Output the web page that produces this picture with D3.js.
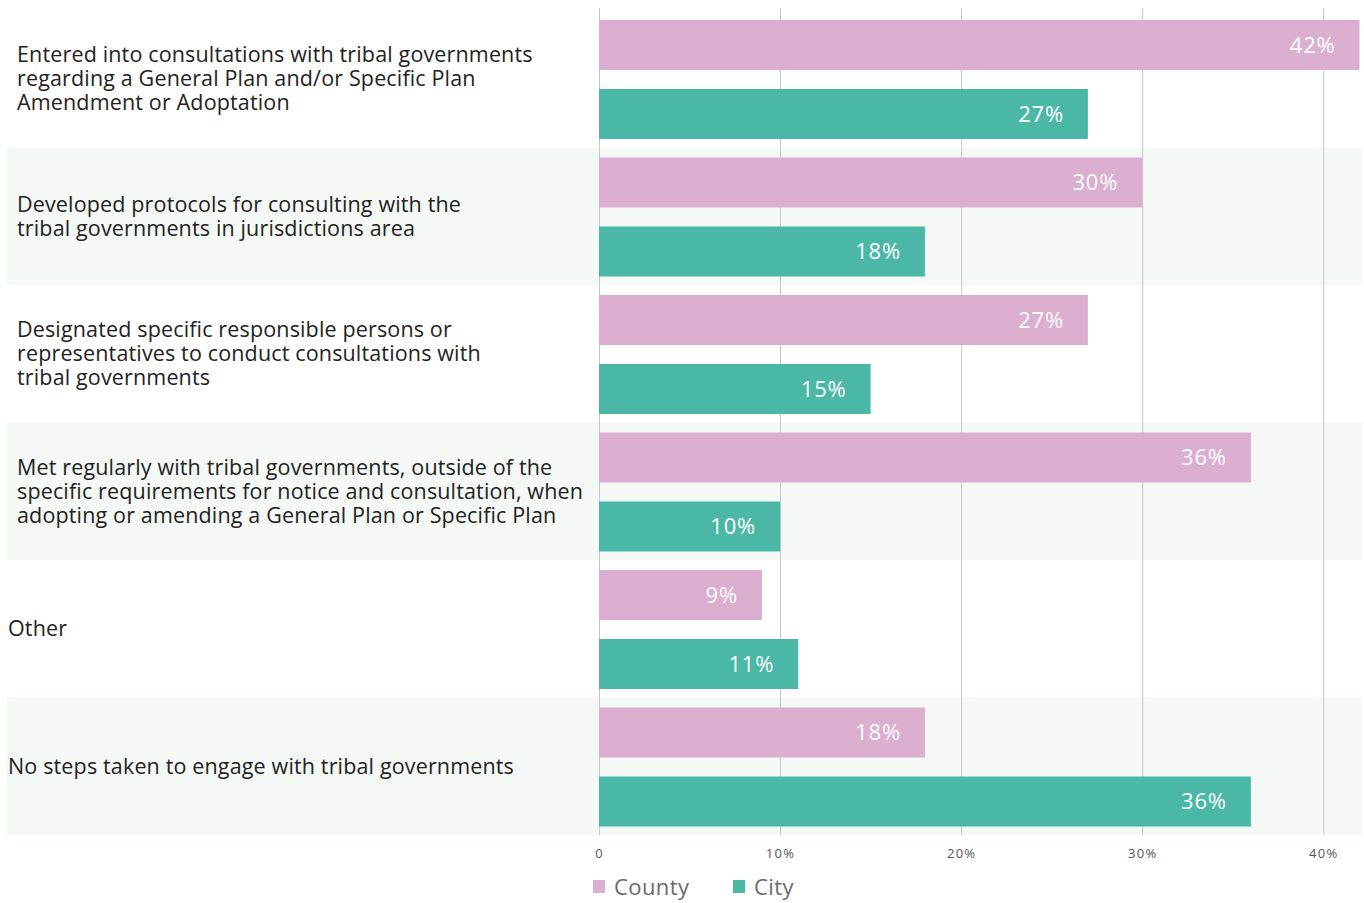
<!DOCTYPE html>
<html>
<head>
<meta charset="utf-8">
<script src="https://cdn.jsdelivr.net/npm/d3@7/dist/d3.min.js"></script>
<style>
  html, body { margin: 0; padding: 0; background: #fff; }
  svg { display: block; }
</style>
</head>
<body>
<svg id="chart" width="1364" height="903"></svg>
<script>
const categories = [
  ["Entered into consultations with tribal governments", "regarding a General Plan and/or Specific Plan", "Amendment or Adoptation"],
  ["Developed protocols for consulting with the", "tribal governments in jurisdictions area"],
  ["Designated specific responsible persons or", "representatives to conduct consultations with", "tribal governments"],
  ["Met regularly with tribal governments, outside of the", "specific requirements for notice and consultation, when", "adopting or amending a General Plan or Specific Plan"],
  ["Other"],
  ["No steps taken to engage with tribal governments"]
];
const seriesNames = ["County", "City"];
const countyValues = [42, 30, 27, 36, 9, 18];
const cityValues = [27, 18, 15, 10, 11, 36];
const tickValues = [0, 10, 20, 30, 40];
const tickLabels = ["0", "10%", "20%", "30%", "40%"];
const colors = ["#dcaecf", "#4bb8a7"];

const svg = d3.select("#chart");
const font = "'Open Sans', Lato, sans-serif";

const x = d3.scaleLinear().domain([0, 42]).range([599, 1359.5]);
const y = d3.scaleBand().domain(d3.range(categories.length)).range([10, 835]);
const ySub = d3.scaleBand().domain([0, 1]).range([10, y.bandwidth() - 8.5]).paddingInner(0.2754);

// alternating bands
svg.append("g").selectAll("rect").data(d3.range(categories.length).filter(i => i % 2 === 1))
  .join("rect")
  .attr("x", 7).attr("width", 1362 - 7)
  .attr("y", i => y(i)).attr("height", y.bandwidth())
  .attr("fill", "#f5f9f6");

// gridlines
svg.append("g").selectAll("line").data(tickValues).join("line")
  .attr("x1", d => x(d) + 0.5).attr("x2", d => x(d) + 0.5)
  .attr("y1", 8).attr("y2", 835)
  .attr("stroke", "#c4c6c8").attr("stroke-width", 1);

// axis
const axis = d3.axisBottom(x).tickValues(tickValues).tickFormat((d, i) => tickLabels[i]).tickSize(0).tickPadding(0);
const ag = svg.append("g").attr("transform", "translate(0,854)").call(axis);
ag.select(".domain").remove();
ag.selectAll("text").attr("font-family", font).attr("font-size", 13).attr("fill", "#555").attr("dy", "0.32em").attr("letter-spacing", "1.3px");

// bars
const rows = categories.map((c, i) => ({ i, vals: [countyValues[i], cityValues[i]] }));
const g = svg.append("g");
rows.forEach(r => {
  r.vals.forEach((v, s) => {
    const yy = y(r.i) + ySub(s);
    g.append("rect")
      .attr("x", x(0)).attr("y", yy)
      .attr("width", x(v) - x(0)).attr("height", ySub.bandwidth())
      .attr("fill", colors[s]);
    g.append("text")
      .attr("x", x(v) - 24).attr("y", yy + ySub.bandwidth() / 2)
      .attr("dy", "0.36em")
      .attr("text-anchor", "end")
      .attr("font-family", font).attr("font-size", 22)
      .attr("fill", "#fff")
      .attr("letter-spacing", "0.8px")
      .text(v + "%");
  });
});

// category labels
const lineH = 24;
categories.forEach((lines, i) => {
  const cy = y(i) + y.bandwidth() / 2;
  const lx = lines.length > 1 ? 17 : 8;
  const t = svg.append("text")
    .attr("font-family", font).attr("font-size", 21.5).attr("fill", "#222")
    .attr("letter-spacing", "0.15px");
  lines.forEach((ln, k) => {
    t.append("tspan")
      .attr("x", lx)
      .attr("y", cy + (k - (lines.length - 1) / 2) * lineH)
      .attr("dy", "0.34em")
      .text(ln);
  });
});

// legend
const lg = svg.append("g");
const legendX = [593, 733];
seriesNames.forEach((n, s) => {
  lg.append("rect").attr("x", legendX[s]).attr("y", 880).attr("width", 12).attr("height", 13).attr("fill", colors[s]);
  lg.append("text").attr("x", legendX[s] + 21).attr("y", 887).attr("dy", "0.36em")
    .attr("font-family", font).attr("font-size", 22).attr("fill", "#6a6a6a")
    .attr("letter-spacing", "0.4px").text(n);
});
</script>
</body>
</html>
